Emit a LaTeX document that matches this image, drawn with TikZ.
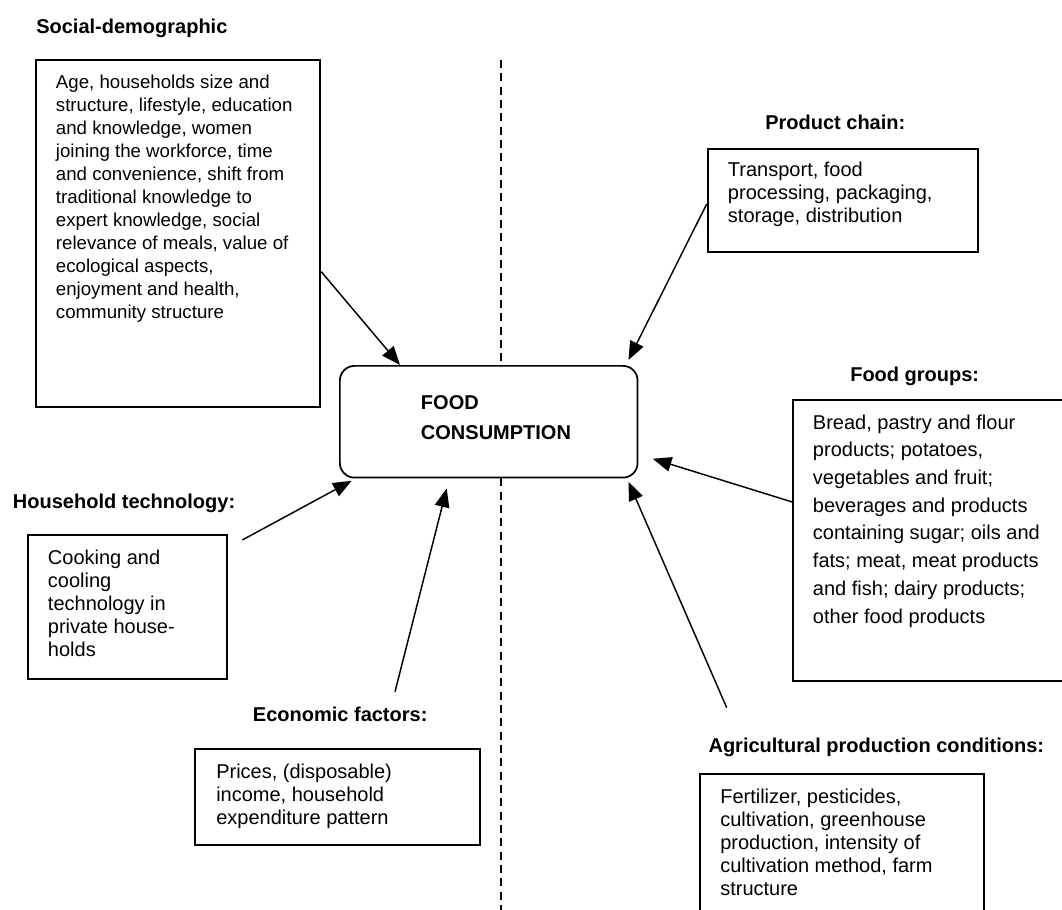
\documentclass[tikz,border=0pt]{standalone}
\usepackage{fontspec}
\setmainfont{Liberation Sans}
\usetikzlibrary{arrows.meta}

\begin{document}
\begin{tikzpicture}
[x=0.75pt,y=-0.75pt,%
  every node/.style={inner sep=0pt},%
  factorbox/.style={draw,line width=1.4pt,anchor=north west},%
  factortext/.style={anchor=north west,align=left,font=\fontsize{15pt}{17.25pt}\selectfont},%
  factortitle/.style={anchor=base west,font=\fontsize{15pt}{18pt}\selectfont\bfseries},%
  influence/.style={-{Triangle[length=14pt,width=11pt]},line width=1.1pt}]
\useasboundingbox (0,0) rectangle (1062,909);
\clip (0,0) rectangle (1062,909);
%% centre
\node[draw,line width=1.3pt,rounded corners=11pt,anchor=north west,
  minimum width=223.3pt,minimum height=83.8pt] (food) at (339,365) {};
\node[factortext,font=\fontsize{15pt}{22.5pt}\selectfont\bfseries] (foodtext)
  at (420.7,395) {FOOD\\CONSUMPTION};
%% social-demographic
\node[factortitle] (socialtitle) at (36,33.3) {Social-demographic};
\node[factorbox,minimum width=213.5pt,minimum height=260pt] (socialbox) at (34.7,59.3) {};
\node[factortext,font=\fontsize{14pt}{17.25pt}\selectfont] (socialtext) at (55.7,75)
  {Age, households size and\\
   structure, lifestyle, education\\
   and knowledge, women\\
   joining the workforce, time\\
   and convenience, shift from\\
   traditional knowledge to\\
   expert knowledge, social\\
   relevance of meals, value of\\
   ecological aspects,\\
   enjoyment and health,\\
   community structure};
%% product chain
\node[factortitle] (chaintitle) at (765,129.3) {Product chain:};
\node[factorbox,minimum width=202.5pt,minimum height=76.8pt] (chainbox) at (706.7,148.3) {};
\node[factortext] (chaintext) at (727.7,161.5)
  {Transport, food\\processing, packaging,\\storage, distribution};
%% food groups
\node[factortitle] (groupstitle) at (850,381) {Food groups:};
\node[factorbox,minimum width=216pt,minimum height=211pt] (groupsbox) at (792.3,398.7) {};
\node[factortext,font=\fontsize{15pt}{20.8pt}\selectfont] (groupstext) at (812.7,414.3)
  {Bread, pastry and flour\\
   products; potatoes,\\
   vegetables and fruit;\\
   beverages and products\\
   containing sugar; oils and\\
   fats; meat, meat products\\
   and fish; dairy products;\\
   other food products};
%% household technology
\node[factortitle] (techtitle) at (12.7,508.3) {Household technology:};
\node[factorbox,minimum width=149.5pt,minimum height=108pt] (techbox) at (26.7,534.3) {};
\node[factortext] (techtext) at (47.7,549.3)
  {Cooking and\\cooling\\technology in\\private house-\\holds};
%% economic factors
\node[factortitle] (econtitle) at (252.7,721.7) {Economic factors:};
\node[factorbox,minimum width=213.75pt,minimum height=72pt] (econbox) at (194.3,748.3) {};
\node[factortext] (econtext) at (216,763.3)
  {Prices, (disposable)\\income, household\\expenditure pattern};
%% agricultural production
\node[factortitle] (agrititle) at (708.3,752.7) {Agricultural production conditions:};
\node[factorbox,minimum width=213.2pt,minimum height=120pt] (agribox) at (699,772.7) {};
\node[factortext] (agritext) at (720,788.3)
  {Fertilizer, pesticides,\\
   cultivation, greenhouse\\
   production, intensity of\\
   cultivation method, farm\\
   structure};
%% dividing line
\coordinate (divtop) at (501,60);
\coordinate (divbottom) at (501,915);
\draw[dash pattern=on 6pt off 4pt,line width=1pt] (divtop) -- (food.north -| divtop);
\draw[dash pattern=on 6pt off 4pt,line width=1pt] (food.south -| divtop) -- (divbottom);
%% arrow ends
\coordinate (socialtail) at ([shift={(0,212.4)}]socialbox.north east);
\coordinate (socialtip) at ([shift={(61,0)}]food.north west);
\coordinate (chaintail) at ([shift={(0,55.7)}]chainbox.north west);
\coordinate (chaintip) at ([shift={(-10,-5)}]food.north east);
\coordinate (groupstail) at ([shift={(0,103.3)}]groupsbox.north west);
\coordinate (groupstip) at ([shift={(14.3,-19.7)}]food.south east);
\coordinate (agritail) at (726.7,707.7);
\coordinate (agritip) at ([shift={(-10,3.3)}]food.south east);
\coordinate (techtail) at (242.3,540);
\coordinate (techtip) at ([shift={(12.7,2.3)}]food.south west);
\coordinate (econtail) at (395,691.7);
\coordinate (econtip) at ([shift={(107.7,10)}]food.south west);
\path
\foreach \startNode/\endNode in {socialtail/socialtip, chaintail/chaintip,
  groupstail/groupstip, agritail/agritip, techtail/techtip, econtail/econtip}
{
  (\startNode) edge[influence] (\endNode)
};
\end{tikzpicture}
\end{document}
